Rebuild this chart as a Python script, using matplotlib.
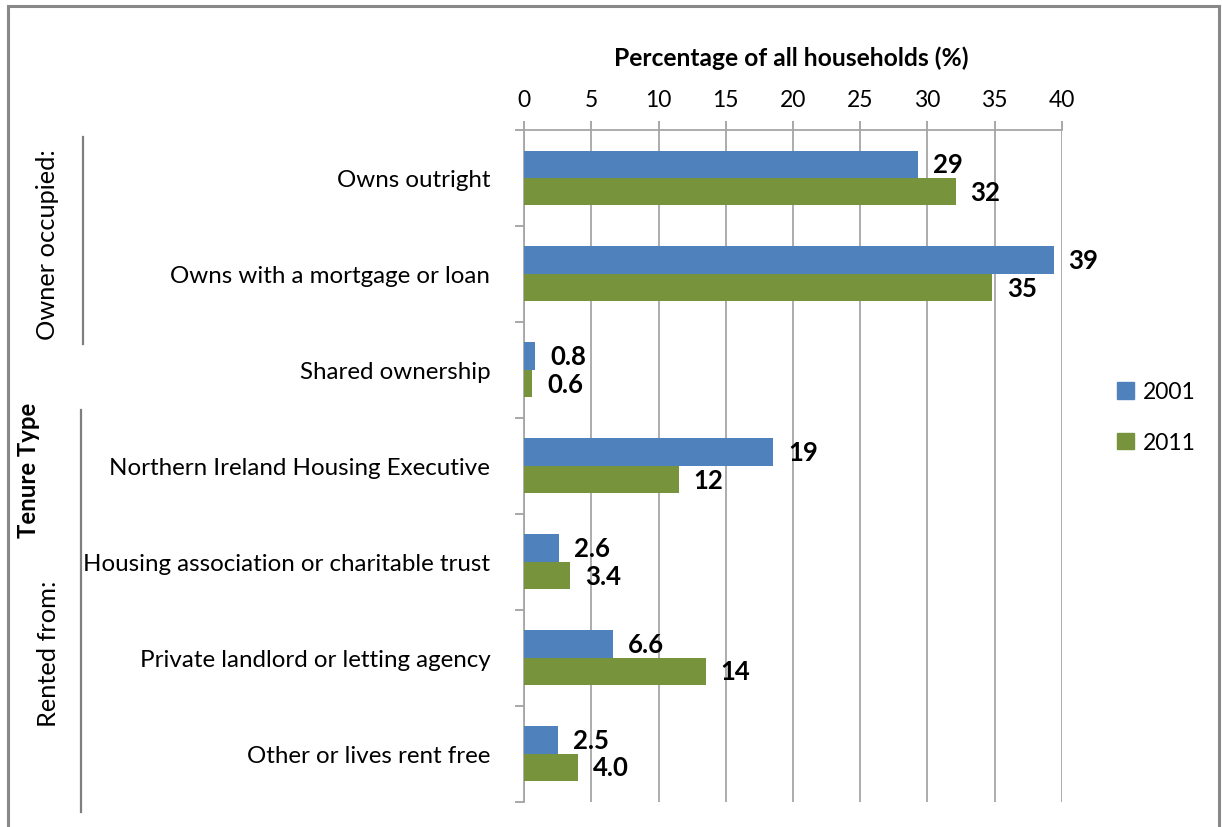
import matplotlib
matplotlib.use("Agg")
import matplotlib.pyplot as plt
from matplotlib.patches import Rectangle, Patch
from matplotlib.lines import Line2D
import numpy as np

categories = [
    "Owns outright",
    "Owns with a mortgage or loan",
    "Shared ownership",
    "Northern Ireland Housing Executive",
    "Housing association or charitable trust",
    "Private landlord or letting agency",
    "Other or lives rent free",
]
values_2001 = [29.3, 39.4, 0.8, 18.5, 2.6, 6.6, 2.5]
values_2011 = [32.1, 34.8, 0.6, 11.5, 3.4, 13.5, 4.0]
labels_2001 = ["29", "39", "0.8", "19", "2.6", "6.6", "2.5"]
labels_2011 = ["32", "35", "0.6", "12", "3.4", "14", "4.0"]
series_names = ["2001", "2011"]
x_ticks = [0, 5, 10, 15, 20, 25, 30, 35, 40]

FONT = "Lato"
plt.rcParams["font.family"] = [FONT, "DejaVu Sans"]

W, H = 1222, 828
fig = plt.figure(figsize=(W / 100, H / 100), dpi=100)

def fx(px):
    return px / W

def fy(py):
    return 1 - py / H

ax_l, ax_r, ax_t, ax_b = 524.3, 1061.7, 131, 802.7
ax = fig.add_axes([fx(ax_l), fy(ax_b), fx(ax_r) - fx(ax_l), fy(ax_t) - fy(ax_b)])

blue = "#4F81BD"
green = "#77933C"
n = len(categories)
y = np.arange(n)
h = 0.286
ax.barh(y - h / 2, values_2001, height=h, color=blue, label=series_names[0], zorder=3)
ax.barh(y + h / 2, values_2011, height=h, color=green, label=series_names[1], zorder=3)

ax.set_xlim(0, 40)
ax.set_ylim(n - 0.5, -0.5)
ax.set_xticks(x_ticks)
ax.xaxis.tick_top()
ax.tick_params(axis="x", which="major", top=True, bottom=False, length=6.7,
               width=1.2, color="#999999", labelsize=16.5, pad=8, labelcolor="black")

ax.set_yticks(y)
ax.set_yticklabels(categories)
ax.set_yticks(np.arange(n + 1) - 0.5, minor=True)
ax.tick_params(axis="y", which="major", length=0, labelsize=17.4, pad=24.5)
ax.tick_params(axis="y", which="minor", length=6.7, width=1.2, color="#999999")

ax.grid(axis="x", color="#A6A6A6", linewidth=1.3, zorder=0)
for s in ["right", "bottom"]:
    ax.spines[s].set_visible(False)
for s in ["left", "top"]:
    ax.spines[s].set_color("#A6A6A6")
    ax.spines[s].set_linewidth(1.3)

off = 15 * 72 / 100  # points
for i in range(n):
    ax.annotate(labels_2001[i], (values_2001[i], y[i] - h / 2), xytext=(off, 0),
                textcoords="offset points", va="center", ha="left",
                fontsize=18.5, fontweight="bold")
    ax.annotate(labels_2011[i], (values_2011[i], y[i] + h / 2), xytext=(off, 0),
                textcoords="offset points", va="center", ha="left",
                fontsize=18.5, fontweight="bold")

# top axis title
fig.text(fx(791), fy(58), "Percentage of all households (%)", ha="center", va="center",
         fontsize=17.7, fontweight="bold")

# group labels
fig.text(fx(48), fy(245), "Owner occupied:", rotation=90, ha="center", va="center", fontsize=18.3)
fig.text(fx(49), fy(654), "Rented from:", rotation=90, ha="center", va="center", fontsize=18.3)
fig.text(fx(28), fy(470), "Tenure Type", rotation=90, ha="center", va="center",
         fontsize=17.2, fontweight="bold")
fig.add_artist(Line2D([fx(83), fx(83)], [fy(138), fy(345)], color="#7F7F7F", linewidth=1.6))
fig.add_artist(Line2D([fx(81), fx(81)], [fy(411), fy(813)], color="#7F7F7F", linewidth=1.6))

# legend
handles = [Patch(color=blue), Patch(color=green)]
fig.legend(handles, series_names, loc="center left",
           bbox_to_anchor=(fx(1096), fy(418)), frameon=False, fontsize=16.5,
           handlelength=0.75, handleheight=0.75, handletextpad=0.4, labelspacing=1.3)

# outer border
fig.add_artist(Rectangle((fx(8), fy(850)), fx(1219) - fx(8), fy(7) - fy(850),
                         fill=False, edgecolor="#888888", linewidth=2.2,
                         transform=fig.transFigure, clip_on=False))

fig.savefig("out.png", dpi=100, facecolor="white")
